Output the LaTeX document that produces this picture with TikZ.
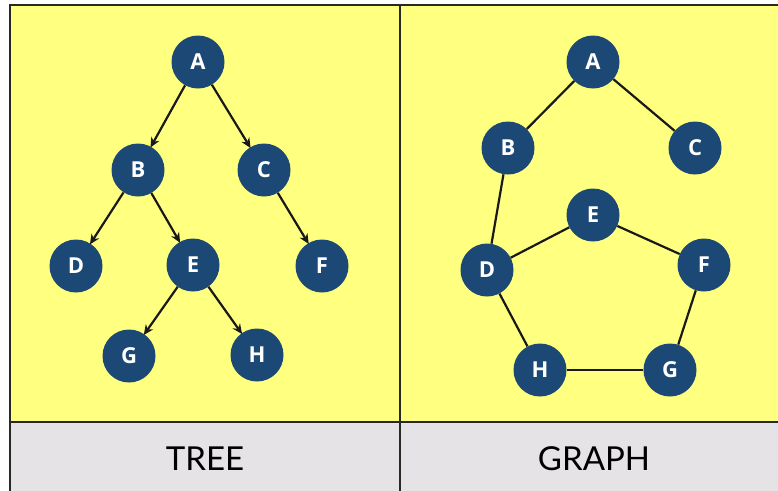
\documentclass[tikz,border=0pt]{standalone}
\usepackage{fontspec}
\setmainfont{Lato}
\newfontfamily\vtxfont{Open Sans}
\usetikzlibrary{arrows.meta}
\definecolor{panelyellow}{RGB}{255,255,128}
\definecolor{labelgray}{RGB}{229,227,229}
\definecolor{nodeblue}{RGB}{28,72,118}
\definecolor{frameline}{RGB}{40,40,36}
\tikzset{
  vtx/.style={circle, fill=nodeblue, minimum size=53pt, inner sep=0pt,
    text=white, font=\vtxfont\fontsize{22}{22}\selectfont\bfseries},
  treeedge/.style={draw=black!90, line width=2.2pt,
    -{Stealth[length=10pt,width=9pt]}, shorten >=-1pt},
  graphedge/.style={draw=black!90, line width=2.2pt},
  caption/.style={font=\fontsize{33}{33}\selectfont, text=black},
  frame/.style={draw=frameline, line width=2pt}
}
\begin{document}
\begin{tikzpicture}[x=1pt, y=-1pt]
  \useasboundingbox (0,0) rectangle (778,490);
  \clip (0,0) rectangle (778,490);
  % panels
  \fill[white] (0,0) rectangle (778,490);
  \fill[panelyellow] (10,5) rectangle (790,422);
  \fill[labelgray] (10,422) rectangle (790,500);
  \draw[frame] (10,500) -- (10,5) -- (790,5);
  \draw[frame] (10,422) -- (790,422);
  \draw[frame] (400,5) -- (400,500);

  % captions
  \node[caption] (tcap) at (205,459) {TREE};
  \node[caption] (gcap) at (594,459) {GRAPH};

  % tree
  \node[vtx] (tA) at (198,62) {A};
  \node[vtx] (tB) at (138,170) {B};
  \node[vtx] (tC) at (264,170) {C};
  \node[vtx] (tD) at (76,266) {D};
  \node[vtx] (tE) at (193,265) {E};
  \node[vtx] (tF) at (322,266) {F};
  \node[vtx] (tG) at (129,356) {G};
  \node[vtx] (tH) at (257,355) {H};
  \draw[treeedge] (tA) -- (tB);
  \draw[treeedge] (tA) -- (tC);
  \draw[treeedge] (tB) -- (tD);
  \draw[treeedge] (tB) -- (tE);
  \draw[treeedge] (tC) -- (tF);
  \draw[treeedge] (tE) -- (tG);
  \draw[treeedge] (tE) -- (tH);

  % graph
  \node[vtx] (gA) at (593,62) {A};
  \node[vtx] (gB) at (508,148) {B};
  \node[vtx] (gC) at (695,148) {C};
  \node[vtx] (gE) at (593,215) {E};
  \node[vtx] (gD) at (487,270) {D};
  \node[vtx] (gF) at (704,265) {F};
  \node[vtx] (gH) at (540,370) {H};
  \node[vtx] (gG) at (670,370) {G};
  \draw[graphedge] (gA) -- (gB);
  \draw[graphedge] (gA) -- (gC);
  \draw[graphedge] (gB) -- (gD);
  \draw[graphedge] (gD) -- (gE);
  \draw[graphedge] (gE) -- (gF);
  \draw[graphedge] (gF) -- (gG);
  \draw[graphedge] (gG) -- (gH);
  \draw[graphedge] (gH) -- (gD);
\end{tikzpicture}
\end{document}
